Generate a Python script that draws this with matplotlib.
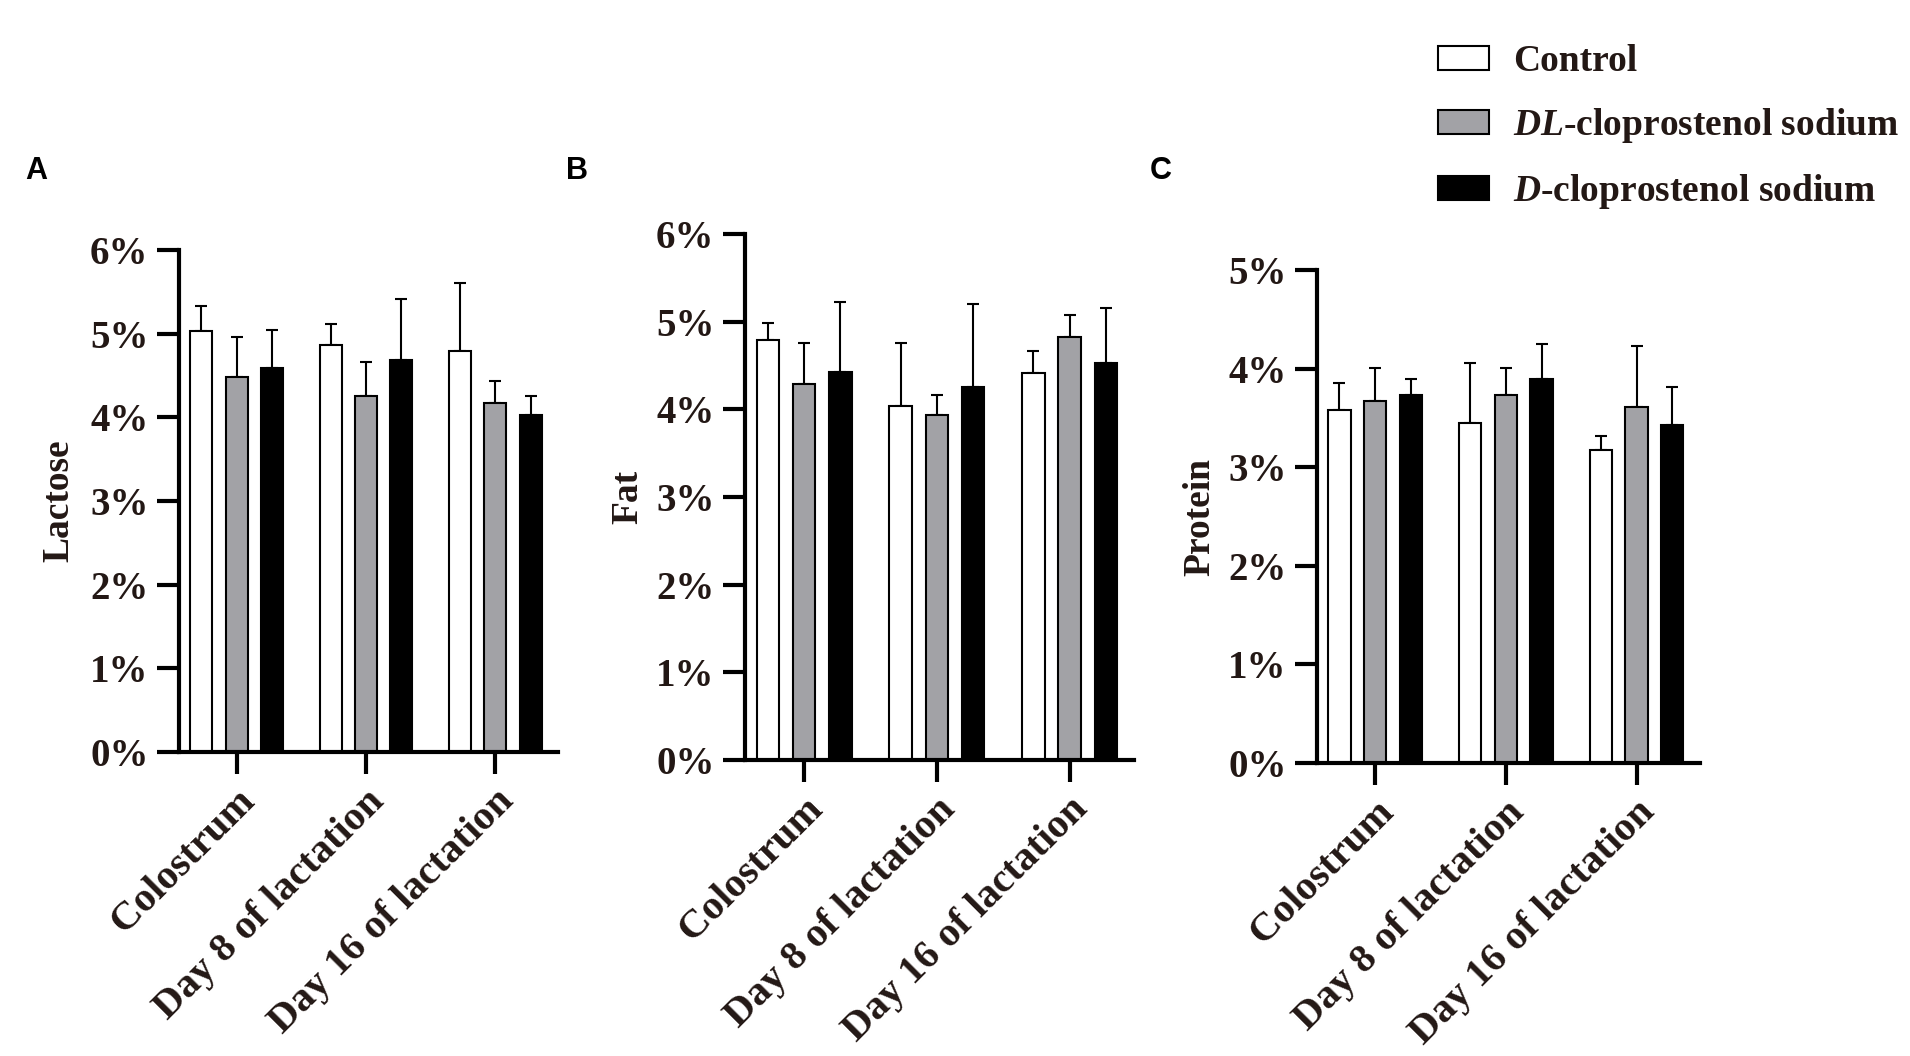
import numpy as np
import matplotlib.pyplot as plt
from matplotlib.patches import Patch
from matplotlib.ticker import PercentFormatter

plt.rcParams['font.family'] = ['Liberation Serif', 'DejaVu Serif']
plt.rcParams['font.weight'] = 'bold'
plt.rcParams['mathtext.fontset'] = 'custom'
plt.rcParams['mathtext.it'] = 'Liberation Serif:italic:bold'
plt.rcParams['mathtext.rm'] = 'Liberation Serif:bold'

stages = ['Colostrum', 'Day 8 of lactation', 'Day 16 of lactation']
groups = ['Control', r'$\mathit{DL}$-cloprostenol sodium', r'$\mathit{D}$-cloprostenol sodium']

# means (%) and upper error lengths (%)
lactose_ctrl = [5.03, 4.87, 4.79]
lactose_dl = [4.48, 4.26, 4.17]
lactose_d = [4.59, 4.69, 4.03]
lactose_ctrl_err = [0.30, 0.24, 0.82]
lactose_dl_err = [0.48, 0.40, 0.27]
lactose_d_err = [0.45, 0.73, 0.23]

fat_ctrl = [4.79, 4.04, 4.41]
fat_dl = [4.29, 3.93, 4.82]
fat_d = [4.43, 4.26, 4.53]
fat_ctrl_err = [0.20, 0.72, 0.26]
fat_dl_err = [0.47, 0.23, 0.26]
fat_d_err = [0.79, 0.94, 0.63]

protein_ctrl = [3.58, 3.45, 3.17]
protein_dl = [3.67, 3.73, 3.61]
protein_d = [3.73, 3.89, 3.43]
protein_ctrl_err = [0.27, 0.61, 0.15]
protein_dl_err = [0.34, 0.28, 0.62]
protein_d_err = [0.16, 0.36, 0.38]

colors = ['white', '#a2a2a6', 'black']
txt = '#231815'

fig = plt.figure(figsize=(19.1, 10.56), dpi=100)

W, H = 1910.0, 1056.0
def make_ax(l, r, t, b):
    return fig.add_axes([l / W, 1 - b / H, (r - l) / W, (b - t) / H])

axA = make_ax(179, 558, 250, 752)
axB = make_ax(745, 1134, 234, 760)
axC = make_ax(1317, 1700, 270, 763)

panels = [
    (axA, 'Lactose', 6, [lactose_ctrl, lactose_dl, lactose_d],
     [lactose_ctrl_err, lactose_dl_err, lactose_d_err], -0.27),
    (axB, 'Fat', 6, [fat_ctrl, fat_dl, fat_d],
     [fat_ctrl_err, fat_dl_err, fat_d_err], -0.255),
    (axC, 'Protein', 5, [protein_ctrl, protein_dl, protein_d],
     [protein_ctrl_err, protein_dl_err, protein_d_err], -0.26),
]

x = np.arange(len(stages))
width = 0.17
offset = 0.273

for ax, ylab, ymax, means, errs, lx in panels:
    for i in range(3):
        pos = x + (i - 1) * offset
        ax.bar(pos, means[i], width, color=colors[i], edgecolor='black',
               linewidth=1.5, zorder=2)
        ax.errorbar(pos, means[i], yerr=[np.zeros(3), errs[i]], fmt='none',
                    ecolor='black', elinewidth=1.5, capsize=4, capthick=1.5,
                    zorder=1)
    ax.set_xlim(-0.445, 2.485)
    ax.set_ylim(0, ymax)
    ax.set_yticks(range(ymax + 1))
    ax.yaxis.set_major_formatter(PercentFormatter(decimals=0))
    ax.set_xticks(x)
    ax.set_xticklabels(stages, rotation=45, ha='right', va='top',
                       rotation_mode='anchor', fontsize=29.5, color=txt)
    for s in ['top', 'right']:
        ax.spines[s].set_visible(False)
    for s in ['left', 'bottom']:
        ax.spines[s].set_linewidth(3)
    ax.tick_params(axis='both', length=16, width=3, labelcolor=txt, pad=6)
    ax.tick_params(axis='y', labelsize=28)
    ax.set_ylabel(ylab, fontsize=27, fontweight='bold', color=txt)
    ax.yaxis.set_label_coords(lx, 0.5)

fig.text(36 / W, 1 - 171 / H, 'A', family='Liberation Sans', weight='bold',
         fontsize=22, ha='center', va='center')
fig.text(577 / W, 1 - 171 / H, 'B', family='Liberation Sans', weight='bold',
         fontsize=22, ha='center', va='center')
fig.text(1161 / W, 1 - 171 / H, 'C', family='Liberation Sans', weight='bold',
         fontsize=22, ha='center', va='center')

handles = [Patch(facecolor=c, edgecolor='black', linewidth=1.5) for c in colors]
fig.legend(handles, groups, loc='upper left', bbox_to_anchor=(1438 / W, 1 - 44 / H),
           frameon=False, fontsize=27, handlelength=1.35, handleheight=0.6,
           handletextpad=0.65, labelspacing=0.72, borderpad=0, borderaxespad=0,
           labelcolor=txt)

fig.savefig('out.png', dpi=100)
